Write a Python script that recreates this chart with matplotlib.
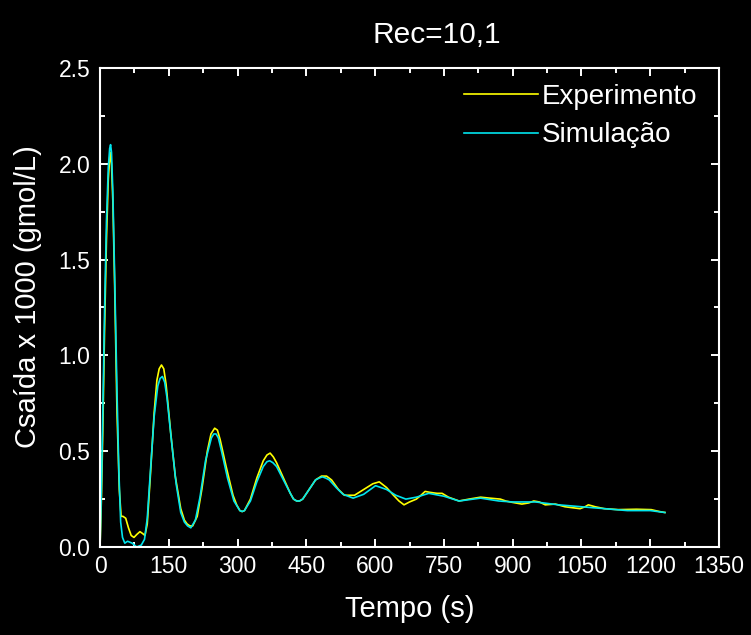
import numpy as np
import matplotlib
matplotlib.use("Agg")
import matplotlib.pyplot as plt
from matplotlib.ticker import MultipleLocator, FormatStrFormatter

plt.rcParams['font.family'] = ['Liberation Sans', 'DejaVu Sans']

# Experimento (amarelo)
t_exp = [0, 3, 6, 10, 14, 18, 22, 25, 28, 32, 37, 42, 46, 50, 56, 62, 68, 74, 80,
         87, 93, 98, 103, 110, 118, 124, 129, 134, 139, 144, 154, 164, 176, 184,
         190, 196, 202, 212, 222, 234, 242, 250, 256, 262, 275, 290, 298, 305, 310,
         315, 328, 342, 356, 364, 371, 378, 385, 400, 415, 422, 429, 435, 442, 456,
         470, 483, 494, 505, 520, 533, 543, 555, 575, 595, 609, 625, 640, 652, 663,
         675, 690, 700, 709, 720, 735, 746, 760, 783, 805, 830, 850, 873, 885, 899,
         920, 935, 946, 958, 971, 993, 1014, 1030, 1047, 1058, 1065, 1080, 1100,
         1130, 1170, 1202, 1220, 1232]
c_exp = [0.0, 0.25, 0.6, 1.15, 1.6, 1.92, 2.06, 2.0, 1.8, 1.35, 0.7, 0.3, 0.16,
         0.16, 0.15, 0.1, 0.06, 0.05, 0.065, 0.08, 0.07, 0.06, 0.12, 0.38, 0.7,
         0.87, 0.93, 0.95, 0.93, 0.85, 0.6, 0.37, 0.2, 0.14, 0.12, 0.11, 0.11, 0.16,
         0.3, 0.5, 0.59, 0.62, 0.61, 0.56, 0.42, 0.27, 0.22, 0.19, 0.185, 0.19, 0.25,
         0.36, 0.45, 0.48, 0.49, 0.47, 0.44, 0.36, 0.28, 0.25, 0.24, 0.24, 0.25, 0.3,
         0.35, 0.37, 0.37, 0.35, 0.3, 0.27, 0.27, 0.27, 0.3, 0.33, 0.34, 0.31, 0.27,
         0.24, 0.22, 0.235, 0.25, 0.27, 0.29, 0.285, 0.28, 0.28, 0.26, 0.24, 0.25,
         0.26, 0.255, 0.25, 0.24, 0.233, 0.224, 0.23, 0.24, 0.235, 0.22, 0.224, 0.21,
         0.205, 0.2, 0.21, 0.22, 0.21, 0.2, 0.195, 0.197, 0.195, 0.185, 0.18]

# Simulacao (ciano)
t_sim = [0, 3, 6, 10, 14, 18, 21, 23, 25, 28, 32, 37, 41, 45, 49, 54, 60, 70, 80,
         90, 97, 103, 110, 118, 126, 131, 136, 141, 146, 156, 166, 176, 184, 191,
         198, 208, 218, 230, 243, 248, 253, 258, 265, 278, 292, 305, 310, 315, 328,
         342, 356, 364, 370, 377, 385, 400, 415, 422, 429, 435, 442, 456, 470, 478,
         485, 492, 500, 515, 530, 552, 575, 601, 625, 645, 667, 690, 717, 750, 783,
         830, 870, 900, 950, 1000, 1050, 1100, 1150, 1200, 1232]
c_sim = [0.0, 0.3, 0.7, 1.25, 1.7, 1.98, 2.08, 2.1, 2.06, 1.85, 1.4, 0.81, 0.4,
         0.13, 0.05, 0.02, 0.03, 0.02, 0.0, 0.01, 0.04, 0.15, 0.4, 0.68, 0.84, 0.88,
         0.89, 0.86, 0.78, 0.55, 0.33, 0.18, 0.13, 0.11, 0.1, 0.14, 0.26, 0.45, 0.57,
         0.59, 0.59, 0.57, 0.5, 0.36, 0.24, 0.19, 0.185, 0.19, 0.24, 0.34, 0.42,
         0.445, 0.45, 0.44, 0.42, 0.35, 0.28, 0.25, 0.24, 0.24, 0.25, 0.3, 0.35,
         0.36, 0.366, 0.36, 0.35, 0.31, 0.275, 0.255, 0.275, 0.32, 0.3, 0.27, 0.25,
         0.26, 0.28, 0.265, 0.24, 0.255, 0.24, 0.235, 0.235, 0.22, 0.21, 0.2, 0.19,
         0.19, 0.18]

fig = plt.figure(figsize=(7.51, 6.35), dpi=100, facecolor='black')
ax = fig.add_axes([0.1332, 0.1386, 0.8242, 0.7543], facecolor='black')

ax.plot(t_exp, c_exp, color='#FFFF00', lw=1.2, label='Experimento')
ax.plot(t_sim, c_sim, color='#00E5EE', lw=1.2, label='Simulação')

ax.set_xlim(0, 1350)
ax.set_ylim(0, 2.5)
ax.xaxis.set_major_locator(MultipleLocator(150))
ax.xaxis.set_minor_locator(MultipleLocator(75))
ax.yaxis.set_major_locator(MultipleLocator(0.5))
ax.yaxis.set_minor_locator(MultipleLocator(0.25))
ax.yaxis.set_major_formatter(FormatStrFormatter('%.1f'))

for sp in ax.spines.values():
    sp.set_color('white')
    sp.set_linewidth(1.5)
ax.tick_params(which='both', direction='in', top=True, right=True,
               colors='white', width=1.4, labelsize=16.5)
ax.tick_params(which='major', length=6)
ax.tick_params(which='minor', length=3.5)
ax.tick_params(axis='x', pad=6)
ax.tick_params(axis='y', pad=7)

ax.set_xlabel('Tempo (s)', color='white', fontsize=21, labelpad=12)
ax.set_ylabel('Csaída x 1000 (gmol/L)', color='white', fontsize=21)
ax.yaxis.set_label_coords(-0.094, 0.522)
fig.text(437 / 751, 1 - 35 / 635, 'Rec=10,1', color='white', fontsize=21.5,
         ha='center', va='center')

leg = ax.legend(loc='upper right', frameon=False, fontsize=20, handlelength=2.66,
                handletextpad=0.15, labelspacing=0.45, borderaxespad=0.5,
                bbox_to_anchor=(1.006, 1.019))
for txt in leg.get_texts():
    txt.set_color('white')

fig.savefig('out.png', dpi=100, facecolor='black')
